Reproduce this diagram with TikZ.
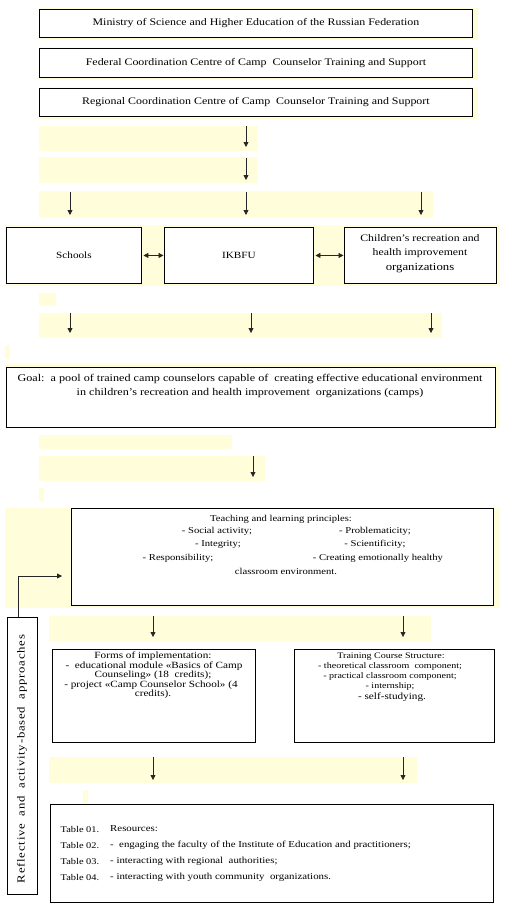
\documentclass[tikz,border=0pt]{standalone}
\usepackage{fontspec}
\setmainfont{Liberation Serif}[FakeStretch=1.18]
\usetikzlibrary{arrows.meta}
\definecolor{bandy}{RGB}{255,253,218}
\begin{document}
\begin{tikzpicture}[x=1pt,y=-1pt,
  band/.style={fill=bandy},
  box/.style={draw=black, line width=0.9pt, fill=white, inner sep=0pt, anchor=north west},
  fs/.style={font=\fontsize{#1}{#1}\selectfont},
  txt/.style={inner sep=0pt, align=center},
  arr/.style={-{Triangle[length=5pt,width=5pt]}, line width=0.8pt, draw=black!85},
  darr/.style={{Triangle[length=5pt,width=5pt]}-{Triangle[length=5pt,width=5pt]}, line width=0.8pt, draw=black!85, shorten <=1.5pt, shorten >=0.5pt}
]
\useasboundingbox (0,0) rectangle (505,907);
\fill[white] (0,0) rectangle (505,907);
% yellow bands
\fill[band] (39,8) rectangle (478,40);
\fill[band] (39,47) rectangle (478,80);
\fill[band] (39,87) rectangle (478,119);
\fill[band] (39,126) rectangle (258,151);
\fill[band] (39,157) rectangle (258,183);
\fill[band] (39,191) rectangle (433,218);
\fill[band] (5,225) rectangle (500,286);
\fill[band] (39,293) rectangle (56,306);
\fill[band] (39,313) rectangle (442,338);
\fill[band] (5,345) rectangle (10,359);
\fill[band] (6,364) rectangle (500,428);
\fill[band] (39,435) rectangle (232,449);
\fill[band] (39,456) rectangle (265,481);
\fill[band] (39,488) rectangle (44,501);
\fill[band] (5,508) rectangle (500,608);
\fill[band] (49,616) rectangle (431,641);
\fill[band] (49,757) rectangle (417,783);
\fill[band] (83,790) rectangle (88,803);

% top boxes
\node[box, minimum width=433pt, minimum height=28pt, fs=10.1] (min) at (39,9) {Ministry of Science and Higher Education of the Russian Federation};
\node[box, minimum width=433pt, minimum height=29pt, fs=10.1] (fed) at (39,48) {Federal Coordination Centre of Camp\ \ Counselor Training and Support};
\node[box, minimum width=433pt, minimum height=28pt, fs=10.1] (reg) at (39,88) {Regional Coordination Centre of Camp\ \ Counselor Training and Support};

% floating arrows
\draw[arr] (246,126) -- (246,147);
\draw[arr] (246,158) -- (246,180);
\draw[arr] (70,192) -- (70,215);
\draw[arr] (246,192) -- (246,215);
\draw[arr] (421,192) -- (421,215);

% row of three
\node[box, minimum width=135pt, minimum height=56pt, fs=9.5] (sch) at (6,227) {Schools};
\node[box, minimum width=149pt, minimum height=56pt, fs=9.5] (ikb) at (164,227) {IKBFU};
\node[box, minimum width=152pt, minimum height=56pt] (chi) at (344,227) {};
\node[txt, fs=10, align=center] (chit) at (420,254) {Children’s\ recreation and\\[4pt] health improvement\\[5pt] {\fontsize{10.8}{10.8}\selectfont organizations}};
\draw[darr] (sch.east) -- (ikb.west);
\draw[darr] (ikb.east) -- (chi.west);

\draw[arr] (70,313) -- (70,333);
\draw[arr] (251,313) -- (251,333);
\draw[arr] (431,313) -- (431,333);

% goal
\node[box, minimum width=489pt, minimum height=60pt] (goal) at (6,367) {};
\node[txt, fs=10.3, align=center] (goalt) at (250,386) {Goal:\ \ a pool of trained camp counselors capable of\ \ creating effective educational environment\\[3pt] in children's recreation and health improvement\ \ organizations (camps)};

\draw[arr] (253,456) -- (253,477);

% principles
\node[box, minimum width=422pt, minimum height=97pt] (pri) at (71,508) {};
\node[txt, fs=9] (p1) at (281,519) {Teaching and learning principles:};
\node[txt, fs=9] (p2a) at (217,531.5) {- Social activity;};
\node[txt, fs=9] (p2b) at (375,531.5) {- Problematicity;};
\node[txt, fs=9] (p3a) at (218,544.5) {- Integrity;};
\node[txt, fs=9] (p3b) at (375,544.5) {- Scientificity;};
\node[txt, fs=9] (p4a) at (178,558) {- Responsibility;};
\node[txt, fs=9] (p4b) at (378,558) {- Creating emotionally healthy};
\node[txt, fs=9] (p5) at (286,571) {classroom environment.};

% reflective box
\node[box, minimum width=30pt, minimum height=277pt] (refl) at (7,617) {};
\node[txt, rotate=90, font=\fontsize{10.8}{10.8}\selectfont\addfontfeature{LetterSpace=7}] (reflt) at (22,759) {Reflective\ \ and\ \ activity-based\ \ approaches};
\coordinate (elb) at (62,576);
\draw[arr] ([xshift=-4pt]refl.north) |- (elb);

\draw[arr] (153,616) -- (153,637);
\draw[arr] (403,616) -- (403,637);

% forms / training
\node[box, minimum width=203pt, minimum height=93pt] (forms) at (52,649) {};
\node[txt, fs=9.5] (f1) at (153,656.5) {Forms of implementation:};
\node[txt, fs=9.5] (f2) at (154,666) {-\ \ educational module «Basics of Camp};
\node[txt, fs=9.5] (f3) at (153,675.5) {Counseling» (18\ \ credits);};
\node[txt, fs=9.5] (f4) at (151,685) {- project «Camp Counselor School» (4};
\node[txt, fs=9.5] (f5) at (153,694.5) {credits).};

\node[box, minimum width=200pt, minimum height=93pt] (trn) at (294,649) {};
\node[txt, fs=8.5] (t1) at (391,656.5) {Training Course Structure:};
\node[txt, fs=8.5] (t2) at (390,666) {- theoretical classroom\ \ component;};
\node[txt, fs=8.5] (t3) at (390,676) {- practical classroom component;};
\node[txt, fs=8.5] (t4) at (390,686) {- internship;};
\node[txt, fs=9.5] (t5) at (392,697) {- self-studying.};

\draw[arr] (153,757) -- (153,780);
\draw[arr] (403,757) -- (403,780);

% resources
\node[box, minimum width=443pt, minimum height=98pt] (res) at (50,804) {};
\node[txt, fs=8.8, anchor=west] (r1a) at (60.5,829) {Table 01.};
\node[txt, fs=9.2, anchor=west] (r1b) at (110,829) {Resources:};
\node[txt, fs=8.8, anchor=west] (r2a) at (60.5,845) {Table 02.};
\node[txt, fs=9.2, anchor=west] (r2b) at (110,845) {-\ \ engaging the faculty of the Institute of Education and practitioners;};
\node[txt, fs=8.8, anchor=west] (r3a) at (60.5,861) {Table 03.};
\node[txt, fs=9.2, anchor=west] (r3b) at (110,861) {- interacting with regional\ \ authorities;};
\node[txt, fs=8.8, anchor=west] (r4a) at (60.5,877) {Table 04.};
\node[txt, fs=9.2, anchor=west] (r4b) at (110,877) {- interacting with youth community\ \ organizations.};
\end{tikzpicture}
\end{document}
